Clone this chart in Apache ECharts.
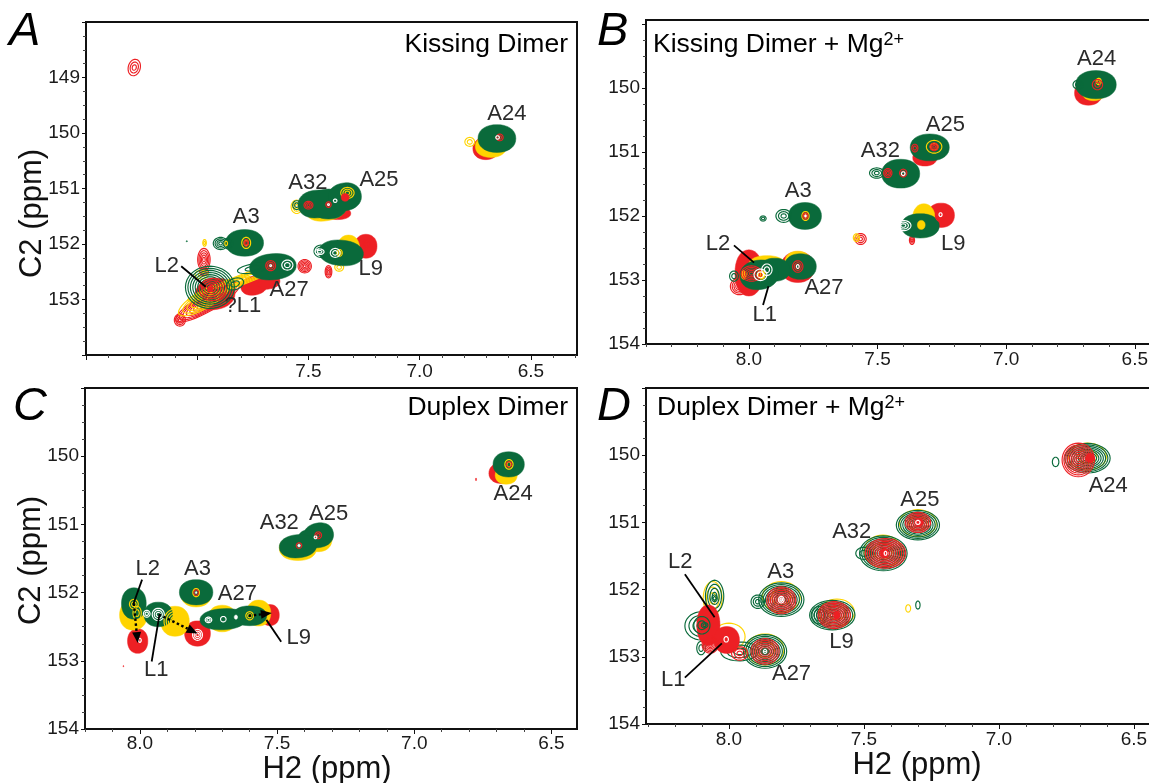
<!DOCTYPE html>
<html><head><meta charset="utf-8">
<style>html,body{margin:0;padding:0;background:#fff}#c{width:1149px;height:783px}</style>
<script src="https://cdn.jsdelivr.net/npm/echarts@6/dist/echarts.min.js"></script>
</head><body><div id="c"></div>
<script>
// Peak rows: [H2 ppm, C2 ppm, half-width H2, half-width C2, tilt deg, contour count, solid 0/1]
const aRed = [
 [8.283,148.82,.027,.15,15,3,0],
 [6.703,150.28,.058,.2,0,1,1],
 [7.37,151.45,.06,.11,0,1,1],
 [7.242,152.04,.05,.215,0,1,1],
 [7.97,152.28,.028,.2,0,5,0],
 [7.97,152.5,.02,.07,0,3,0],
 [7.517,152.40,.03,.12,0,5,0],
 [7.41,152.5,.015,.11,0,4,0],
 [7.745,152.75,.06,.17,-10,1,1],
 [7.678,152.69,.05,.12,-10,1,1],
 [7.953,153.05,.165,.16,-30,9,0],
 [8.078,153.37,.025,.11,0,4,0],
 [7.92,152.9,.09,.28,-10,1,1]
];
const aYellow = [
 [6.775,150.16,.022,.08,0,2,0],
 [6.68,150.24,.07,.2,0,1,1],
 [7.553,151.33,.025,.12,0,3,0],
 [7.42,151.38,.09,.2,-10,1,1],
 [7.32,152.08,.05,.24,0,1,1],
 [7.362,152.42,.02,.07,0,2,0],
 [7.967,151.98,.008,.06,0,2,0],
 [7.81,152.66,.25,.09,-21,5,0],
 [7.97,153.0,.13,.16,-30,6,0],
 [7.98,152.55,.03,.08,0,2,0]
];
const aGreen = [
 [6.653,150.10,.085,.25,0,1,1],
 [7.462,151.28,.085,.25,-5,1,1],
 [7.41,151.28,.085,.27,0,1,1],
 [7.337,151.15,.075,.25,-10,1,1],
 [7.553,151.3,.018,.08,0,2,0],
 [7.787,151.98,.085,.24,0,1,1],
 [7.895,151.99,.033,.11,0,4,0],
 [7.86,151.99,.02,.1,0,3,0],
 [8.047,151.95,.003,.01,0,1,1],
 [7.66,152.41,.105,.235,-5,1,1],
 [7.75,152.44,.07,.08,-10,2,0],
 [7.353,152.16,.1,.23,5,1,1],
 [7.445,152.13,.03,.11,0,3,0],
 [7.943,152.78,.11,.38,0,10,0],
 [7.83,152.72,.04,.1,-20,2,0]
];
const aTopRed = [
 [6.64,150.08,.015,.06,0,2,0],[7.335,151.16,.018,.07,0,1,1],[7.5,151.3,.02,.07,0,3,0],[7.41,151.29,.012,.05,0,2,0],
 [7.78,151.98,.01,.06,0,2,0],[7.67,152.39,.022,.09,0,3,0],[7.24,152.0,.015,.07,0,3,0],[7.93,152.82,.06,.2,0,5,0],[7.94,152.81,.012,.05,0,1,1]
];
const aTopYellow = [
 [7.36,152.16,.012,.06,0,2,0],[7.78,151.98,.02,.1,0,2,0],[7.325,151.08,.03,.1,0,3,0],[7.87,151.99,.006,.04,0,1,0]
];
const aTopWhite = [
 [6.65,150.08,.008,.03,0,1,0],[7.38,151.22,.008,.03,0,1,0],[7.41,151.29,.004,.015,0,1,0],[7.67,152.39,.004,.015,0,1,0],
 [7.45,152.14,.02,.05,0,2,0],[7.38,152.16,.022,.08,0,2,0],[7.595,152.38,.025,.09,0,2,0]
];
const bRed = [
 [6.68,150.08,.054,.19,0,1,1],[7.316,151.09,.047,.13,0,1,1],[7.253,151.99,.052,.19,0,1,1],
 [7.566,152.36,.022,.085,0,3,0],[7.366,152.38,.01,.065,0,3,0],
 [8.0,152.89,.054,.36,0,1,1],[8.037,153.1,.035,.13,0,5,0],[7.81,152.8,.065,.24,0,1,1]
];
const bYellow = [
 [6.66,150.02,.05,.18,0,1,1],[7.32,152.07,.045,.26,0,1,1],[7.582,152.34,.012,.06,0,2,0],
 [7.93,152.76,.07,.14,0,1,1],[7.81,152.72,.05,.17,0,1,1]
];
const bGreen = [
 [6.651,149.95,.079,.22,0,1,1],[6.72,149.95,.02,.07,0,2,0],
 [7.297,150.93,.076,.21,0,1,1],
 [7.41,151.34,.074,.225,0,1,1],[7.503,151.33,.028,.08,0,3,0],
 [7.782,152.0,.064,.21,0,1,1],[7.865,152.0,.03,.1,0,3,0],[7.945,152.04,.012,.04,0,2,0],
 [7.334,152.155,.074,.19,0,1,1],
 [7.8,152.79,.062,.2,0,1,1],[7.9,152.84,.06,.18,0,1,1],[7.96,152.92,.075,.23,-8,1,1],[8.058,152.94,.017,.08,0,2,0]
];
const bTopRed = [
 [6.645,149.95,.02,.08,0,2,0],[7.28,150.92,.016,.06,0,3,0],[7.355,150.94,.012,.06,0,2,0],[7.4,151.33,.014,.06,0,2,0],
 [7.46,151.33,.016,.07,0,3,0],[7.78,152.0,.01,.05,0,2,0],[7.81,152.79,.02,.09,0,3,0],[7.255,151.99,.02,.1,0,2,0],
 [7.99,152.9,.04,.12,0,5,0]
];
const bTopYellow = [
 [6.64,149.9,.01,.05,0,2,0],[7.28,150.92,.03,.1,0,2,0],[7.78,152.0,.014,.07,0,2,0],[7.33,152.14,.015,.07,0,1,1],
 [7.952,152.92,.016,.07,0,1,1],[8.02,152.92,.01,.07,0,1,1]
];
const bTopWhite = [
 [7.4,151.34,.007,.03,0,1,0],[7.78,152.0,.004,.02,0,1,1],[7.4,152.15,.03,.08,0,3,0],[7.255,151.98,.006,.03,0,1,0],
 [7.81,152.79,.005,.03,0,1,0],[7.93,152.84,.02,.09,0,2,0],[7.955,152.92,.025,.09,0,2,0]
];
const cRed = [
 [6.683,150.25,.045,.15,0,1,1],[7.79,152.6,.047,.185,0,1,1],[8.008,152.71,.037,.18,0,1,1],[7.526,152.33,.034,.155,0,1,1],
 [6.775,150.34,.002,.02,0,1,1],[8.06,153.08,.001,.012,0,1,1]
];
const cYellow = [
 [6.665,150.28,.04,.13,0,1,1],[7.424,151.35,.068,.18,0,1,1],[7.35,151.22,.05,.18,0,1,1],[7.795,152.03,.055,.18,0,1,1],
 [8.024,152.33,.05,.22,0,1,1],[7.872,152.42,.052,.22,0,1,1],[7.567,152.3,.044,.19,0,1,1],[7.7,152.38,.052,.195,0,1,1]
];
const cGreen = [
 [6.656,150.12,.057,.185,0,1,1],[7.349,151.16,.055,.18,-12,1,1],[7.385,151.23,.04,.15,0,1,1],[7.424,151.32,.068,.17,-5,1,1],
 [7.795,151.995,.061,.185,0,1,1],[8.022,152.16,.045,.23,0,1,1],[7.933,152.32,.052,.18,0,1,1],
 [7.696,152.39,.085,.155,-3,1,1],[7.6,152.34,.062,.145,0,1,1]
];
const cTopRed = [[6.655,150.12,.01,.04,0,1,0],[7.35,151.16,.012,.05,0,2,0],[7.42,151.31,.01,.04,0,1,0],[7.795,152.0,.008,.04,0,1,0]];
const cTopYellow = [[6.655,150.12,.015,.07,0,2,0],[7.795,152.0,.012,.06,0,1,0],[8.022,152.17,.016,.07,0,2,0],[7.6,152.34,.014,.06,0,2,0],[7.872,152.42,.04,.18,0,5,0],[8.01,152.3,.015,.1,0,2,0]];
const cTopWhite = [[7.795,152.0,.003,.015,0,1,1],[7.42,151.31,.005,.02,0,1,1],[7.36,151.19,.005,.02,0,1,0],[7.933,152.32,.022,.09,0,3,0],[7.975,152.31,.012,.05,0,2,0],[7.79,152.62,.018,.08,0,3,0],[7.696,152.39,.01,.04,0,1,0],[7.75,152.4,.012,.04,0,2,0],[8.0,152.7,.005,.03,0,1,0],[7.65,152.36,.006,.03,0,1,1]];
const dYellow = [
 [6.672,150.02,.07,.2,0,2,0],[7.3,151.01,.068,.2,0,2,0],[7.43,151.43,.07,.24,0,2,0],[7.806,152.11,.07,.23,0,2,0],
 [7.6,152.34,.065,.2,0,2,0],[7.866,152.89,.07,.23,0,2,0],[8.06,152.13,.035,.25,0,3,0],[8.0,152.7,.06,.2,0,2,0],
 [7.336,152.28,.009,.055,0,1,0]
];
const dGreen = [
 [6.672,150.045,.084,.22,0,10,0],[6.79,150.1,.012,.07,0,1,0],
 [7.3,151.04,.08,.22,0,10,0],
 [7.428,151.46,.088,.26,0,11,0],[7.5,151.46,.03,.09,0,2,0],
 [7.806,152.15,.084,.25,0,10,0],[7.893,152.18,.025,.1,0,3,0],
 [7.617,152.38,.084,.22,0,10,0],[7.665,152.38,.03,.13,0,3,0],
 [7.866,152.92,.08,.25,0,10,0],[7.96,152.92,.07,.14,-2,3,0],
 [8.053,152.1,.034,.24,0,4,0],[8.103,152.54,.06,.21,0,4,0],[8.103,152.87,.016,.1,0,2,0],
 [7.3,152.23,.008,.06,0,1,0]
];
const dRed = [
 [6.706,150.07,.06,.25,0,9,0],[6.663,150.04,.016,.07,0,1,1],
 [7.3,151.0,.047,.15,0,7,0],[7.295,151.0,.015,.06,0,1,1],
 [7.42,151.46,.075,.22,0,10,0],[7.425,151.46,.015,.07,0,1,1],
 [7.806,152.16,.054,.2,0,8,0],
 [7.61,152.38,.06,.2,0,9,0],[7.6,152.38,.012,.06,0,1,1],
 [7.866,152.92,.052,.19,0,7,0],
 [8.076,152.53,.043,.3,0,1,1],[8.008,152.75,.047,.2,0,1,1],[8.069,152.82,.03,.125,0,6,0],[7.96,152.95,.03,.1,0,3,0]
];
const dTopGreen = [[7.866,152.92,.012,.04,0,2,0],[8.09,152.53,.012,.04,0,2,0],[8.053,152.13,.01,.05,0,2,0],[8.1,152.53,.03,.13,0,2,0]];
const dTopWhite = [[7.806,152.15,.01,.05,0,2,0],[7.866,152.92,.006,.03,0,1,0],[7.3,151.0,.008,.03,0,1,0],[7.42,151.46,.005,.03,0,1,0],[8.01,152.74,.008,.04,0,1,0]];

// Label rows: [text, H2, C2]
const aLabels = [['A24',6.608,149.66],['A25',7.183,150.84],['A32',7.503,150.9],['A3',7.78,151.52],['L2',8.137,152.39],['L9',7.22,152.45],['A27',7.587,152.83],['?L1',7.795,153.11]];
const bLabels = [['A24',6.648,149.55],['A25',7.236,150.58],['A32',7.489,150.99],['A3',7.808,151.61],['L2',8.12,152.44],['L9',7.206,152.44],['A27',7.708,153.125],['L1',7.938,153.55]];
const cLabels = [['A24',6.64,150.55],['A25',7.312,150.85],['A32',7.492,150.985],['A3',7.79,151.66],['A27',7.645,152.02],['L2',7.971,151.66],['L1',7.94,153.13],['L9',7.421,152.67]];
const dLabels = [['A24',6.595,150.45],['A25',7.293,150.67],['A32',7.545,151.14],['A3',7.808,151.74],['A27',7.768,153.25],['L2',8.18,151.59],['L1',8.206,153.345],['L9',7.583,152.78]];
// Leader rows: [H2 from, C2 from, H2 to, C2 to]
const aLeaders = [[8.072,152.40,7.962,152.77]];
const bLeaders = [[8.058,152.46,7.98,152.73],[7.945,153.39,7.924,153.1]];
const cLeaders = [[7.992,151.81,8.024,152.17],[7.957,153.01,7.929,152.33],[7.485,152.72,7.539,152.4]];
const dLeaders = [[8.163,151.77,8.053,152.41],[8.163,153.31,8.026,152.8]];
const cShifts = [[8.022,152.16,8.008,152.74],[7.931,152.32,7.79,152.6],[7.603,152.34,7.519,152.30]];

// Axis ticks
const c2Major = [149,150,151,152,153,154];
const c2Minor = [148.25,148.5,148.75,149.25,149.5,149.75,150.25,150.5,150.75,151.25,151.5,151.75,152.25,152.5,152.75,153.25,153.5,153.75];
const c2MajorA = [148,149,150,151,152,153,154];
const c2LabelsA = [149,150,151,152,153];
const c2Labels = [150,151,152,153,154];
const h2Major = [8.5,8,7.5,7,6.5];
const h2Minor = [8.4,8.3,8.2,8.1,7.9,7.8,7.7,7.6,7.4,7.3,7.2,7.1,6.9,6.8,6.7,6.6,6.4,6.3];
const h2LabelsA = [7.5,7,6.5];
const h2Labels = [8,7.5,7,6.5];

const RED='#ED2024', YEL='#FFD400', GRN='#0A6A3B', WHT='#ffffff';
const FONT='"Liberation Sans",Arial,sans-serif';

const panels = [
 {g:{left:86,top:22,width:491,height:333}, x:[6.293,8.5], y:[148,154], yM:c2MajorA, yL:c2LabelsA, xL:h2LabelsA, xMargin:7, yName:'C2 (ppm)', yPad:[0,50,0,0],
  layers:[[aRed,RED],[aYellow,YEL],[aGreen,GRN],[aTopYellow,YEL],[aTopRed,RED],[aTopWhite,WHT]], labels:aLabels, leaders:aLeaders},
 {g:{left:646,top:20,width:506,height:324}, x:[6.433,8.4], y:[148.94,154], yM:c2Major, yL:c2Labels, xL:h2Labels, xMargin:6,
  layers:[[bRed,RED],[bYellow,YEL],[bGreen,GRN],[bTopYellow,YEL],[bTopRed,RED],[bTopWhite,WHT]], labels:bLabels, leaders:bLeaders},
 {g:{left:85,top:388,width:492,height:341}, x:[6.407,8.2], y:[149,154], yM:c2Major, yL:c2Labels, xL:h2Labels, xMargin:5, yName:'C2 (ppm)', yPad:[0,4,0,0], xName:'H2 (ppm)', xPad:[0,8,0,0], xGap:22,
  layers:[[cRed,RED],[cYellow,YEL],[cGreen,GRN],[cTopYellow,YEL],[cTopRed,RED],[cTopWhite,WHT]], labels:cLabels, leaders:cLeaders, arrows:cShifts},
 {g:{left:646,top:388,width:506,height:336}, x:[6.433,8.307], y:[149,154], yM:c2Major, yL:c2Labels, xL:h2Labels, xMargin:6, xName:'H2 (ppm)', xPad:[0,0,0,36], xGap:26,
  layers:[[dYellow,YEL],[dGreen,GRN],[dRed,RED],[dTopGreen,GRN],[dTopWhite,WHT]], labels:dLabels, leaders:dLeaders}
];

function contourItem(color){
  return function(params, api){
    const c = api.coord([api.value(0), api.value(1)]);
    const s = api.size([api.value(2), api.value(3)], [api.value(0), api.value(1)]);
    const tilt = api.value(4)*Math.PI/180, n = api.value(5), solid = api.value(6);
    const ct=Math.cos(tilt), st=Math.sin(tilt), kids=[], e=solid?0.92:1;
    const pw=v=>Math.sign(v)*Math.pow(Math.abs(v),e);
    for(let i=0;i<n;i++){
      const k = 1-i/n, pts=[];
      for(let a=0;a<36;a++){
        const t=a/36*2*Math.PI, ex=s[0]*k*pw(Math.cos(t)), ey=s[1]*k*pw(Math.sin(t));
        pts.push([c[0]+ex*ct-ey*st, c[1]+ex*st+ey*ct]);
      }
      kids.push({type:'polygon',shape:{points:pts,smooth:0},silent:true,
        style:{fill:solid?color:'none',stroke:color,lineWidth:solid?0.5:1.15}});
    }
    return {type:'group',children:kids};
  };
}
function labelItem(rows){
  return function(params, api){
    const r=rows[params.dataIndex], c=api.coord([r[1],r[2]]);
    return {type:'text',x:c[0],y:c[1],silent:true,style:{text:r[0],fill:'#2b2b2b',font:'22px '+FONT,textAlign:'center',textVerticalAlign:'middle'}};
  };
}
function leaderItem(params, api){
  const a=api.coord([api.value(0),api.value(1)]), b=api.coord([api.value(2),api.value(3)]);
  return {type:'line',silent:true,shape:{x1:a[0],y1:a[1],x2:b[0],y2:b[1]},style:{stroke:'#000',lineWidth:1.8}};
}
function arrowItem(params, api){
  const a=api.coord([api.value(0),api.value(1)]), b=api.coord([api.value(2),api.value(3)]);
  const ang=Math.atan2(b[1]-a[1],b[0]-a[0]), L=11, W=4.5;
  const bx=b[0]-L*Math.cos(ang), by=b[1]-L*Math.sin(ang);
  return {type:'group',silent:true,children:[
    {type:'line',shape:{x1:a[0],y1:a[1],x2:bx,y2:by},style:{stroke:'#000',lineWidth:2.4,lineDash:[2.5,2.5]}},
    {type:'polygon',shape:{points:[[b[0],b[1]],[bx-W*Math.sin(ang),by+W*Math.cos(ang)],[bx+W*Math.sin(ang),by-W*Math.cos(ang)]]},style:{fill:'#000'}}
  ]};
}

const grid=[], xAxis=[], yAxis=[], series=[];
panels.forEach(function(p,i){
  grid.push(Object.assign({show:true,borderColor:'#111',borderWidth:2,backgroundColor:'#fff',containLabel:false,outerBoundsMode:'none'},p.g));
  const base={type:'value',gridIndex:i,inverse:true,min:p.x[0],max:p.x[1],splitLine:{show:false},silent:true};
  xAxis.push(Object.assign({},base,{position:'bottom',
    name:p.xName||'',nameLocation:'middle',nameGap:p.xGap||30,nameTextStyle:{fontFamily:FONT,fontSize:31,color:'#111',padding:p.xPad||0},
    axisLine:{show:true,onZero:false,lineStyle:{color:'#111',width:2}},
    axisTick:{show:true,length:5,customValues:h2Major.filter(v=>v>=p.x[0]&&v<=p.x[1]),lineStyle:{color:'#111',width:1}},
    axisLabel:{show:true,margin:p.xMargin,fontFamily:FONT,fontSize:19,color:'#1a1a1a',customValues:p.xL,formatter:v=>Number(v).toFixed(1)}}));
  xAxis.push(Object.assign({},base,{position:'bottom',axisLine:{show:false,onZero:false},
    axisTick:{show:true,length:3,customValues:h2Minor.filter(v=>v>=p.x[0]&&v<=p.x[1]),lineStyle:{color:'#444',width:1}},axisLabel:{show:false}}));
  const ybase={type:'value',gridIndex:i,inverse:true,min:p.y[0],max:p.y[1],splitLine:{show:false},silent:true};
  yAxis.push(Object.assign({},ybase,{position:'left',
    name:p.yName||'',nameLocation:'middle',nameGap:38,nameMoveOverlap:false,nameRotate:90,nameTextStyle:{fontFamily:FONT,fontSize:31,color:'#111',padding:p.yPad||0},
    axisLine:{show:true,onZero:false,lineStyle:{color:'#111',width:2}},
    axisTick:{show:true,length:4,customValues:p.yM,lineStyle:{color:'#111',width:1}},
    axisLabel:{show:true,margin:6,fontFamily:FONT,fontSize:19,color:'#1a1a1a',customValues:p.yL,formatter:v=>String(v)}}));
  yAxis.push(Object.assign({},ybase,{position:'left',axisLine:{show:false,onZero:false},
    axisTick:{show:true,length:3,customValues:c2Minor.filter(v=>v>=p.y[0]&&v<=p.y[1]),lineStyle:{color:'#444',width:1}},axisLabel:{show:false}}));
  const ax={xAxisIndex:i*2,yAxisIndex:i*2,clip:true,silent:true,animation:false};
  p.layers.forEach(function(l){
    series.push(Object.assign({type:'custom',renderItem:contourItem(l[1]),data:l[0],encode:{x:0,y:1}},ax));
  });
  series.push(Object.assign({type:'custom',renderItem:leaderItem,data:p.leaders,encode:{x:[0,2],y:[1,3]}},ax));
  if(p.arrows) series.push(Object.assign({type:'custom',renderItem:arrowItem,data:p.arrows,encode:{x:[0,2],y:[1,3]}},ax));
  series.push(Object.assign({type:'custom',renderItem:labelItem(p.labels),data:p.labels.map(r=>[r[1],r[2]]),encode:{x:0,y:1}},ax));
});

const letter=(t,left,top)=>({text:t,left:left,top:top,padding:0,textStyle:{fontFamily:FONT,fontSize:47,fontStyle:'italic',fontWeight:'normal',color:'#000'}});
const sup={s:{fontFamily:FONT,fontSize:18,color:'#000',padding:[0,0,10,0]}};
const head=(t,pos,top)=>Object.assign({text:t,top:top,padding:0,textStyle:{fontFamily:FONT,fontSize:26.5,fontWeight:'normal',color:'#000',rich:sup}},pos);
const title=[
 letter('A',9,8),letter('B',597,8),letter('C',13,383),letter('D',597,383),
 head('Kissing Dimer',{right:1149-568},31),
 head('Kissing Dimer + Mg{s|2+}',{left:653},31),
 head('Duplex Dimer',{right:1149-568},394),
 head('Duplex Dimer + Mg{s|2+}',{left:657},394)
];
const chart=echarts.init(document.getElementById('c'),null,{renderer:'canvas'});
chart.setOption({animation:false,backgroundColor:'#fff',title,grid,xAxis,yAxis,series,tooltip:{show:false}});
</script></body></html>
